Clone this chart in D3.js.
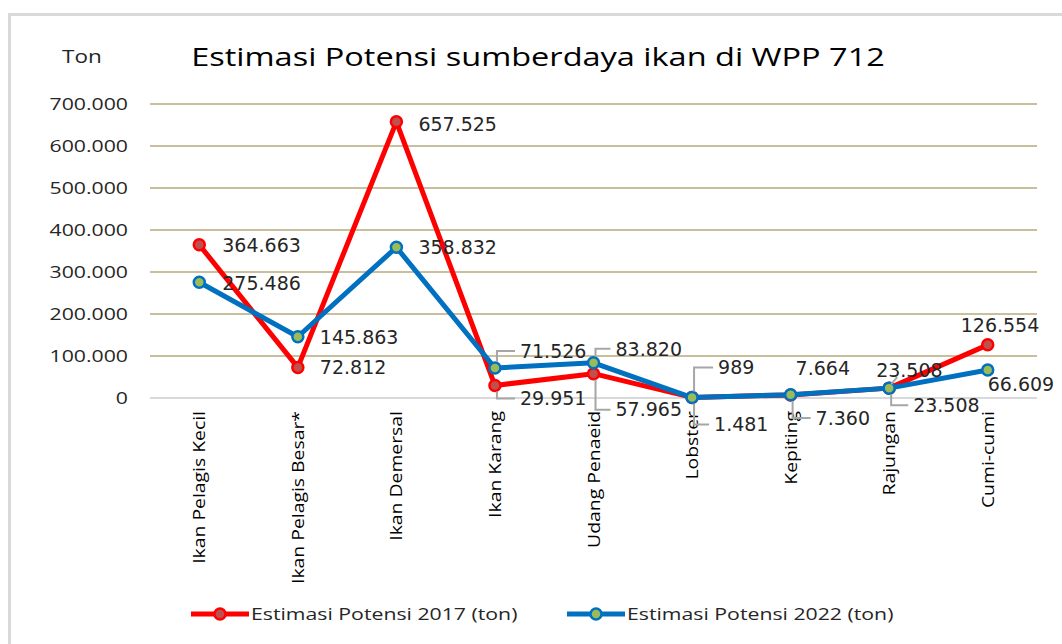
<!DOCTYPE html>
<html>
<head>
<meta charset="utf-8">
<script src="https://cdn.jsdelivr.net/npm/d3@7"></script>
<style>
  body { margin: 0; background: #fff; }
  svg { display: block; }
</style>
</head>
<body>
<div class="chartContainer"></div>
<script>
// data
const categories = ['Ikan Pelagis Kecil', 'Ikan Pelagis Besar*', 'Ikan Demersal', 'Ikan Karang',
                    'Udang Penaeid', 'Lobster', 'Kepiting', 'Rajungan', 'Cumi-cumi'];
const potensi2017 = [364663, 72812, 657525, 29951, 57965, 1481, 7360, 23508, 126554];
const potensi2022 = [275486, 145863, 358832, 71526, 83820, 989, 7664, 23508, 66609];
const yTicks = [0, 100000, 200000, 300000, 400000, 500000, 600000, 700000];
const seriesNames = ['Estimasi Potensi 2017 (ton)', 'Estimasi Potensi 2022 (ton)'];

// label placement (pixel offsets from the point, leader = gray callout line)
const labelPos2017 = [
  { dx: 23, dy: 0 }, { dx: 22, dy: 0 }, { dx: 22, dy: 2 }, { dx: 25, dy: 13, leader: true },
  { dx: 22, dy: 36, leader: true }, { dx: 22, dy: 27, leader: true }, { dx: 25, dy: 23, leader: true },
  { dx: -13, dy: -18, diag: true }, { dx: -27, dy: -20 }
];
const labelPos2022 = [
  { dx: 23, dy: 1 }, { dx: 22, dy: 0 }, { dx: 22, dy: 0 }, { dx: 25, dy: -17, leader: true },
  { dx: 22, dy: -14, leader: true }, { dx: 26, dy: -30, leader: true }, { dx: 5, dy: -27 },
  { dx: 24, dy: 17, leader: true }, { dx: 0, dy: 14 }
];

// the source uses a wide, stretched sans; widen Open Sans to match
const STRETCH = 1.25;
const FONT = "'Open Sans', sans-serif";

window.addEventListener("load", () => {
  drawChart();
});

function drawChart() {
  const width = 1062, height = 644;
  const plot = { left: 150, right: 1037, top: 104, bottom: 398 };

  const locale = d3.formatLocale({ decimal: ",", thousands: ".", grouping: [3], currency: ["", ""] });
  const fmt = locale.format(",");

  const svg = d3.select(".chartContainer")
    .append("svg")
    .attr("width", width)
    .attr("height", height);

  svg.append("rect").attr("width", width).attr("height", height).attr("fill", "#fff");
  // outer chart border
  svg.append("rect")
    .attr("x", 9.5).attr("y", 14.5)
    .attr("width", 1100).attr("height", 700)
    .attr("fill", "none")
    .attr("stroke", "#d9d9d9")
    .attr("stroke-width", 3);

  const x = d3.scaleBand().domain(categories).range([plot.left, plot.right]);
  const y = d3.scaleLinear().domain([0, 700000]).range([plot.bottom, plot.top]);
  const cx = d => x(d) + x.bandwidth() / 2;

  // gridlines
  svg.append("g")
    .selectAll("line")
    .data(yTicks)
    .enter()
    .append("line")
    .attr("x1", plot.left).attr("x2", plot.right)
    .attr("y1", d => y(d)).attr("y2", d => y(d))
    .attr("stroke", d => d === 0 ? "#d9d9d9" : "#c9bf9c")
    .attr("stroke-width", 2);

  // y axis labels
  const yAxis = d3.axisLeft(y).tickValues(yTicks).tickFormat(fmt).tickSize(0).tickPadding(0);
  svg.append("g")
    .attr("class", "y axis")
    .attr("transform", "translate(128,0)")
    .call(yAxis)
    .call(g => g.select(".domain").remove())
    .selectAll("text")
    .attr("x", 0)
    .attr("transform", "scale(" + STRETCH + ",1)")
    .style("font-family", FONT)
    .style("font-size", "17px")
    .attr("fill", "#262626");

  // x axis labels, rotated
  svg.append("g")
    .selectAll("text")
    .data(categories)
    .enter()
    .append("text")
    .attr("transform", d => "translate(" + (cx(d) + 6) + ",411) rotate(-90) scale(" + STRETCH + ",1)")
    .attr("text-anchor", "end")
    .style("font-family", FONT)
    .style("font-size", "15.5px")
    .attr("fill", "#000")
    .text(d => d);

  // title and unit
  svg.append("text")
    .attr("transform", "translate(538,66) scale(" + STRETCH + ",1)")
    .attr("text-anchor", "middle")
    .style("font-family", FONT)
    .style("font-size", "26px")
    .attr("fill", "#000")
    .text("Estimasi Potensi sumberdaya ikan di WPP 712");

  svg.append("text")
    .attr("transform", "translate(62,63) scale(" + STRETCH + ",1)")
    .style("font-family", FONT)
    .style("font-size", "18px")
    .attr("fill", "#262626")
    .text("Ton");

  const series = [
    { name: seriesNames[0], values: potensi2017, line: "#ff0000", fill: "#c0504d", labels: labelPos2017 },
    { name: seriesNames[1], values: potensi2022, line: "#0070c0", fill: "#9bbb59", labels: labelPos2022 }
  ];

  const line = d3.line()
    .x((d, i) => cx(categories[i]))
    .y(d => y(d));

  series.forEach(s => {
    svg.append("path")
      .datum(s.values)
      .attr("fill", "none")
      .attr("stroke", s.line)
      .attr("stroke-width", 5)
      .attr("stroke-linejoin", "round")
      .attr("d", line);

    svg.append("g")
      .selectAll("circle")
      .data(s.values)
      .enter()
      .append("circle")
      .attr("cx", (d, i) => cx(categories[i]))
      .attr("cy", d => y(d))
      .attr("r", 5.5)
      .attr("fill", s.fill)
      .attr("stroke", s.line)
      .attr("stroke-width", 2.5);
  });

  // data labels with callouts
  series.forEach(s => {
    s.values.forEach((v, i) => {
      const px = cx(categories[i]), py = y(v);
      const p = s.labels[i];
      const lx = px + p.dx, ly = py + p.dy;
      if (p.leader) {
        const dir = p.dy < 0 ? -1 : 1;
        svg.append("polyline")
          .attr("points", [[px + 2, py + dir * 6], [px + 2, ly], [lx - 5, ly]].map(q => q.join(",")).join(" "))
          .attr("fill", "none")
          .attr("stroke", "#a6a6a6")
          .attr("stroke-width", 2);
      }
      if (p.diag) {
        svg.append("line")
          .attr("x1", px + 2).attr("y1", py - 4)
          .attr("x2", px + 8).attr("y2", py - 11)
          .attr("stroke", "#a6a6a6")
          .attr("stroke-width", 2);
      }
      svg.append("text")
        .attr("x", lx).attr("y", ly)
        .attr("dy", "0.36em")
        .style("font-family", "'DejaVu Sans', sans-serif")
        .style("font-size", "19px")
        .attr("fill", "#262626")
        .text(fmt(v));
    });
  });

  // legend
  const legendX = [191, 567];
  series.forEach((s, i) => {
    const lg = svg.append("g").attr("transform", "translate(" + legendX[i] + ",614)");
    lg.append("line")
      .attr("x1", 0).attr("x2", 58)
      .attr("stroke", s.line).attr("stroke-width", 5);
    lg.append("circle")
      .attr("cx", 29).attr("r", 5.5)
      .attr("fill", s.fill).attr("stroke", s.line).attr("stroke-width", 2.5);
    lg.append("text")
      .attr("transform", "translate(60,0) scale(" + STRETCH + ",1)")
      .attr("dy", "0.36em")
      .style("font-family", FONT)
      .style("font-size", "17px")
      .attr("fill", "#262626")
      .text(s.name);
  });
}
</script>
</body>
</html>
